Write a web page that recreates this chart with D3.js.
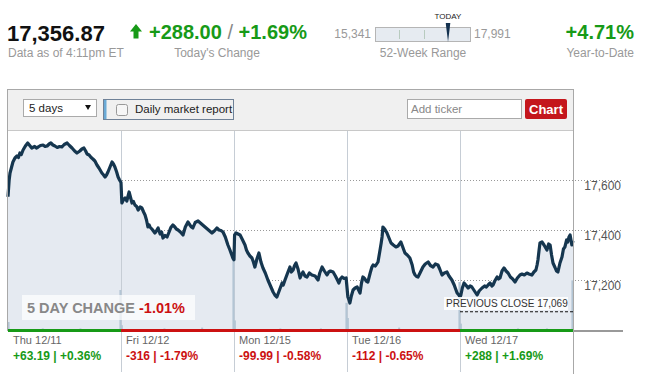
<!DOCTYPE html>
<html>
<head>
<meta charset="utf-8">
<script src="https://cdn.jsdelivr.net/npm/d3@7"></script>
<style>
  body { margin: 0; background: #fff; }
  svg { display: block; font-family: "Liberation Sans", Arial, sans-serif; }
</style>
</head>
<body>
<div id="chart"></div>
<script>
// day labels + daily changes
var days = ["Thu 12/11", "Fri 12/12", "Mon 12/15", "Tue 12/16", "Wed 12/17"];
var dayChanges = ["+63.19 | +0.36%", "-316 | -1.79%", "-99.99 | -0.58%", "-112 | -0.65%", "+288 | +1.69%"];
var dayUp = [true, false, false, false, true];

// intraday prices, [minute after open, value]
var thu = [[0,17533],[4,17600],[7,17628],[12,17650],[17,17672],[24,17688],[31,17696],[36,17690],[41,17708],
  [46,17702],[52,17720],[60,17736],[68,17748],[75,17738],[82,17728],[92,17734],[98,17728],[104,17732],
  [112,17738],[121,17740],[128,17734],[135,17736],[142,17744],[148,17748],[155,17740],[162,17736],[170,17730],
  [178,17734],[186,17732],[194,17742],[204,17748],[212,17738],[221,17728],[230,17716],[238,17708],[248,17716],
  [255,17724],[262,17728],[268,17716],[273,17704],[280,17700],[287,17690],[293,17684],[300,17676],[307,17660],
  [314,17648],[324,17628],[330,17620],[335,17612],[340,17620],[345,17632],[352,17652],[359,17672],[364,17664],
  [369,17652],[375,17632],[380,17612],[385,17600],[390,17590]];
var fri = [[3,17508],[8,17520],[14,17528],[20,17516],[28,17552],[33,17530],[38,17508],[43,17514],[48,17500],
  [54,17494],[59,17480],[66,17492],[72,17488],[78,17472],[83,17460],[88,17440],[93,17412],[97,17420],
  [100,17412],[108,17402],[117,17388],[122,17396],[128,17408],[135,17384],[140,17392],[145,17368],[152,17378],
  [159,17372],[166,17392],[172,17410],[179,17420],[186,17412],[191,17404],[197,17400],[205,17392],[214,17380],
  [222,17412],[231,17432],[238,17420],[243,17412],[248,17408],[256,17430],[266,17436],[274,17428],[282,17420],
  [290,17412],[298,17404],[306,17396],[314,17388],[322,17396],[331,17408],[338,17400],[345,17398],[352,17392],
  [360,17372],[369,17340],[376,17320],[381,17304],[386,17288],[390,17281]];
var mon = [[2,17380],[7,17388],[14,17384],[21,17380],[28,17364],[33,17352],[38,17340],[43,17320],[48,17308],
  [55,17296],[62,17288],[67,17272],[72,17252],[79,17284],[86,17308],[93,17272],[100,17248],[108,17228],
  [117,17200],[126,17176],[135,17152],[141,17140],[148,17132],[157,17160],[166,17188],[170,17180],[176,17200],
  [185,17228],[193,17252],[198,17232],[204,17240],[209,17258],[214,17268],[221,17244],[228,17208],[233,17222],
  [238,17232],[245,17216],[252,17212],[260,17228],[269,17220],[280,17216],[290,17200],[296,17228],[304,17252],
  [312,17236],[321,17220],[327,17232],[333,17236],[342,17232],[350,17216],[357,17200],[362,17188],[367,17204],
  [373,17212],[380,17206],[387,17208]];
var tue = [[3,17132],[7,17120],[10,17108],[15,17136],[21,17160],[28,17168],[35,17172],[40,17160],[45,17148],
  [50,17188],[55,17212],[62,17204],[66,17196],[72,17192],[80,17228],[86,17252],[90,17260],[98,17256],
  [107,17272],[114,17320],[118,17348],[121,17372],[124,17412],[130,17404],[138,17388],[145,17368],[152,17348],
  [160,17340],[169,17332],[176,17336],[181,17344],[186,17352],[193,17330],[200,17308],[208,17300],[217,17288],
  [225,17260],[230,17232],[235,17220],[240,17214],[245,17212],[252,17228],[262,17252],[270,17264],[280,17272],
  [288,17258],[297,17252],[305,17264],[314,17260],[320,17244],[328,17220],[336,17228],[345,17232],[352,17216],
  [362,17200],[370,17180],[375,17164],[380,17148],[386,17140],[390,17132]];
var wed = [[3,17140],[8,17168],[14,17188],[20,17180],[28,17168],[35,17176],[41,17172],[50,17156],[59,17140],
  [66,17156],[76,17168],[85,17176],[91,17172],[97,17180],[104,17188],[110,17176],[114,17180],[120,17196],
  [128,17212],[133,17204],[138,17208],[145,17236],[152,17248],[159,17236],[166,17228],[174,17212],[182,17204],
  [190,17192],[198,17208],[207,17220],[214,17224],[222,17220],[231,17228],[238,17224],[248,17220],[255,17232],
  [262,17240],[266,17260],[269,17280],[273,17320],[276,17348],[283,17352],[290,17340],[296,17328],[300,17320],
  [306,17344],[311,17340],[316,17300],[321,17268],[328,17250],[333,17236],[338,17232],[345,17268],[352,17292],
  [357,17324],[362,17332],[368,17360],[372,17352],[376,17372],[380,17380],[386,17340],[390,17357]];

// volume, [minute, relative volume]
var thuVol = [[2,10],[120,2],[250,2],[388,50]];
var friVol = [[3,6],[150,2],[280,3],[388,90]];
var monVol = [[3,12],[160,2],[300,2],[388,34]];
var tueVol = [[3,15],[180,3],[388,60]];
var wedVol = [[3,8],[200,2],[300,2],[388,62]];

var yTicks = [17200, 17400, 17600];
var prevClose = 17069;

var green = "#179a17", red = "#cc1111", grayTxt = "#999";

var W = 645, H = 374;
var svg = d3.select("#chart").append("svg").attr("width", W).attr("height", H);

// ---------- header ----------
svg.append("text").attr("x", 7).attr("y", 41).attr("font-size", 22).attr("font-weight", "bold")
  .attr("fill", "#111").text("17,356.87");
svg.append("text").attr("x", 8).attr("y", 57).attr("font-size", 12).attr("fill", grayTxt)
  .text("Data as of 4:11pm ET");

svg.append("path").attr("d", "M130,31.5 L136,24 L142,31.5 L138.5,31.5 L138.5,38.5 L133.5,38.5 L133.5,31.5 Z")
  .attr("fill", green);
var chg = svg.append("text").attr("x", 149).attr("y", 39).attr("font-size", 20).attr("font-weight", "bold").attr("fill", green);
chg.append("tspan").text("+288.00");
chg.append("tspan").attr("font-weight", "normal").attr("fill", "#888").text(" / ");
chg.append("tspan").text("+1.69%");
svg.append("text").attr("x", 217).attr("y", 57).attr("font-size", 12).attr("fill", grayTxt)
  .attr("text-anchor", "middle").text("Today's Change");

// 52 week range
var rng = d3.scaleLinear().domain([15341, 17991]).range([375, 471]);
svg.append("text").attr("x", 371).attr("y", 38).attr("font-size", 12).attr("fill", grayTxt)
  .attr("text-anchor", "end").text("15,341");
svg.append("text").attr("x", 474).attr("y", 38).attr("font-size", 12).attr("fill", grayTxt).text("17,991");
svg.append("rect").attr("x", 375.5).attr("y", 27.5).attr("width", 95).attr("height", 14)
  .attr("fill", "#e6ebf1").attr("stroke", "#b5b5b5");
[16000, 16700].forEach(function(v) {
  svg.append("line").attr("x1", Math.round(rng(v)) + 0.5).attr("x2", Math.round(rng(v)) + 0.5)
    .attr("y1", 30).attr("y2", 39).attr("stroke", "#b8cbbf");
});
var tx = rng(17356.87);
svg.append("path").attr("d", "M" + (tx - 2.3) + ",23 L" + (tx + 2.3) + ",23 L" + tx + ",42 Z").attr("fill", "#13314f");
svg.append("text").attr("x", tx).attr("y", 19).attr("font-size", 8).attr("fill", "#222")
  .attr("text-anchor", "middle").text("TODAY");
svg.append("text").attr("x", 423).attr("y", 57).attr("font-size", 12).attr("fill", grayTxt)
  .attr("text-anchor", "middle").text("52-Week Range");

svg.append("text").attr("x", 634).attr("y", 39).attr("font-size", 20).attr("font-weight", "bold")
  .attr("fill", green).attr("text-anchor", "end").text("+4.71%");
svg.append("text").attr("x", 634).attr("y", 57).attr("font-size", 12).attr("fill", grayTxt)
  .attr("text-anchor", "end").text("Year-to-Date");

// ---------- toolbar ----------
svg.append("rect").attr("x", 8).attr("y", 90).attr("width", 565).attr("height", 40).attr("fill", "#f0f0f0");
svg.append("line").attr("x1", 7).attr("x2", 574).attr("y1", 89.5).attr("y2", 89.5).attr("stroke", "#a8a8a8");
svg.append("line").attr("x1", 8).attr("x2", 573).attr("y1", 130.5).attr("y2", 130.5).attr("stroke", "#c8c8c8");

svg.append("rect").attr("x", 23.5).attr("y", 99.5).attr("width", 73).attr("height", 17)
  .attr("fill", "#fff").attr("stroke", "#aaa");
svg.append("text").attr("x", 29).attr("y", 112).attr("font-size", 11.5).attr("fill", "#222").text("5 days");
svg.append("path").attr("d", "M85,105 L91,105 L88,110 Z").attr("fill", "#111");

svg.append("rect").attr("x", 103.5).attr("y", 99.5).attr("width", 130).attr("height", 20)
  .attr("fill", "#f0f0f0").attr("stroke", "#6f8197");
svg.append("rect").attr("x", 104).attr("y", 100).attr("width", 2.5).attr("height", 19).attr("fill", "#6aaad6");
svg.append("rect").attr("x", 116.5).attr("y", 104.5).attr("width", 11).attr("height", 11).attr("rx", 2)
  .attr("fill", "#f6f6f6").attr("stroke", "#999");
svg.append("text").attr("x", 135).attr("y", 113).attr("font-size", 11.5).attr("fill", "#222").text("Daily market report");

svg.append("rect").attr("x", 407.5).attr("y", 99.5).attr("width", 114).attr("height", 19)
  .attr("fill", "#fff").attr("stroke", "#aaa");
svg.append("text").attr("x", 411).attr("y", 113).attr("font-size", 11.5).attr("fill", "#888").text("Add ticker");
svg.append("rect").attr("x", 525).attr("y", 99).attr("width", 42).attr("height", 20).attr("rx", 2).attr("fill", "#c4161c");
svg.append("text").attr("x", 546).attr("y", 114).attr("font-size", 13).attr("font-weight", "bold")
  .attr("fill", "#fff").attr("text-anchor", "middle").text("Chart");

// ---------- chart ----------
var x = d3.scaleLinear().domain([0, 5]).range([8, 573]);
var y = d3.scaleLinear().domain([17000, 17800]).range([330, 130]);
var vh = d3.scaleLinear().domain([0, 100]).range([0, 80]);

var series = [];
[thu, fri, mon, tue, wed].forEach(function(d, i) {
  d.forEach(function(p) { series.push({ t: i + p[0] / 390, v: p[1] }); });
});
var vols = [];
[thuVol, friVol, monVol, tueVol, wedVol].forEach(function(d, i) {
  d.forEach(function(p) { vols.push({ t: i + p[0] / 390, v: p[1] }); });
});

// grid
svg.selectAll(".grid").data(yTicks).enter().append("line")
  .attr("x1", 8).attr("x2", 622).attr("y1", function(d) { return Math.round(y(d)) + 0.5; })
  .attr("y2", function(d) { return Math.round(y(d)) + 0.5; })
  .attr("stroke", "#999").attr("stroke-dasharray", "1,2");
svg.selectAll(".ylab").data(yTicks).enter().append("text")
  .attr("x", 621).attr("y", function(d) { return y(d) + 10; }).attr("text-anchor", "end")
  .attr("font-size", 12).attr("fill", "#555").text(d3.format(","));

// area
var area = d3.area().x(function(d) { return x(d.t); }).y0(y(17000)).y1(function(d) { return y(d.v); });
svg.append("path").datum(series).attr("d", area).attr("fill", "#e5eaf1");

// day dividers
svg.selectAll(".div").data([1, 2, 3, 4]).enter().append("line")
  .attr("x1", function(d) { return Math.round(x(d)) + 0.5; }).attr("x2", function(d) { return Math.round(x(d)) + 0.5; })
  .attr("y1", 131).attr("y2", 372).attr("stroke", "#c6cdd5");

// volume
svg.selectAll(".vol").data(vols).enter().append("rect")
  .attr("x", function(d) { return x(d.t) - 1; }).attr("width", 2)
  .attr("y", function(d) { return 330 - vh(d.v); }).attr("height", function(d) { return vh(d.v); })
  .attr("fill", "#b3c5d4");

// price line
var line = d3.line().x(function(d) { return x(d.t); }).y(function(d) { return y(d.v); });
svg.append("path").datum(series).attr("d", line).attr("fill", "none")
  .attr("stroke", "#15364f").attr("stroke-width", 3.2).attr("stroke-linejoin", "round");

// previous close
svg.append("rect").attr("x", 444).attr("y", 297).attr("width", 124).attr("height", 13).attr("fill", "#fff").attr("opacity", 0.85);
svg.append("text").attr("x", 446).attr("y", 307).attr("font-size", 10).attr("fill", "#333").text("PREVIOUS CLOSE 17,069");
svg.append("line").attr("x1", x(4)).attr("x2", x(5)).attr("y1", y(prevClose) - 1).attr("y2", y(prevClose) - 1)
  .attr("stroke", "#111").attr("stroke-dasharray", "3,2");

// 5 day change
svg.append("rect").attr("x", 22).attr("y", 295).attr("width", 173).attr("height", 25).attr("fill", "#fff").attr("opacity", 0.7);
var fd = svg.append("text").attr("x", 27).attr("y", 313).attr("font-size", 14.5).attr("font-weight", "bold");
fd.append("tspan").attr("fill", "#888").text("5 DAY CHANGE ");
fd.append("tspan").attr("fill", red).text("-1.01%");

// frame
svg.append("line").attr("x1", 7.5).attr("x2", 7.5).attr("y1", 89).attr("y2", 331).attr("stroke", "#a8a8a8");
svg.append("line").attr("x1", 573.5).attr("x2", 573.5).attr("y1", 89).attr("y2", 374).attr("stroke", "#a8a8a8");

// baseline colored by day
svg.selectAll(".base").data(dayUp).enter().append("rect")
  .attr("x", function(d, i) { return x(i); }).attr("width", function(d, i) { return x(i + 1) - x(i); })
  .attr("y", 329).attr("height", 3).attr("fill", function(d) { return d ? green : red; });
svg.append("rect").attr("x", 574).attr("y", 330).attr("width", 49).attr("height", 2).attr("fill", "#999");

// day labels
svg.selectAll(".dlab").data(days).enter().append("text")
  .attr("x", function(d, i) { return x(i) + 5; }).attr("y", 344).attr("font-size", 11).attr("fill", "#666")
  .text(function(d) { return d; });
svg.selectAll(".dchg").data(dayChanges).enter().append("text")
  .attr("x", function(d, i) { return x(i) + 5; }).attr("y", 360).attr("font-size", 12).attr("font-weight", "bold")
  .attr("fill", function(d, i) { return dayUp[i] ? green : red; })
  .text(function(d) { return d; });
</script>
</body>
</html>
